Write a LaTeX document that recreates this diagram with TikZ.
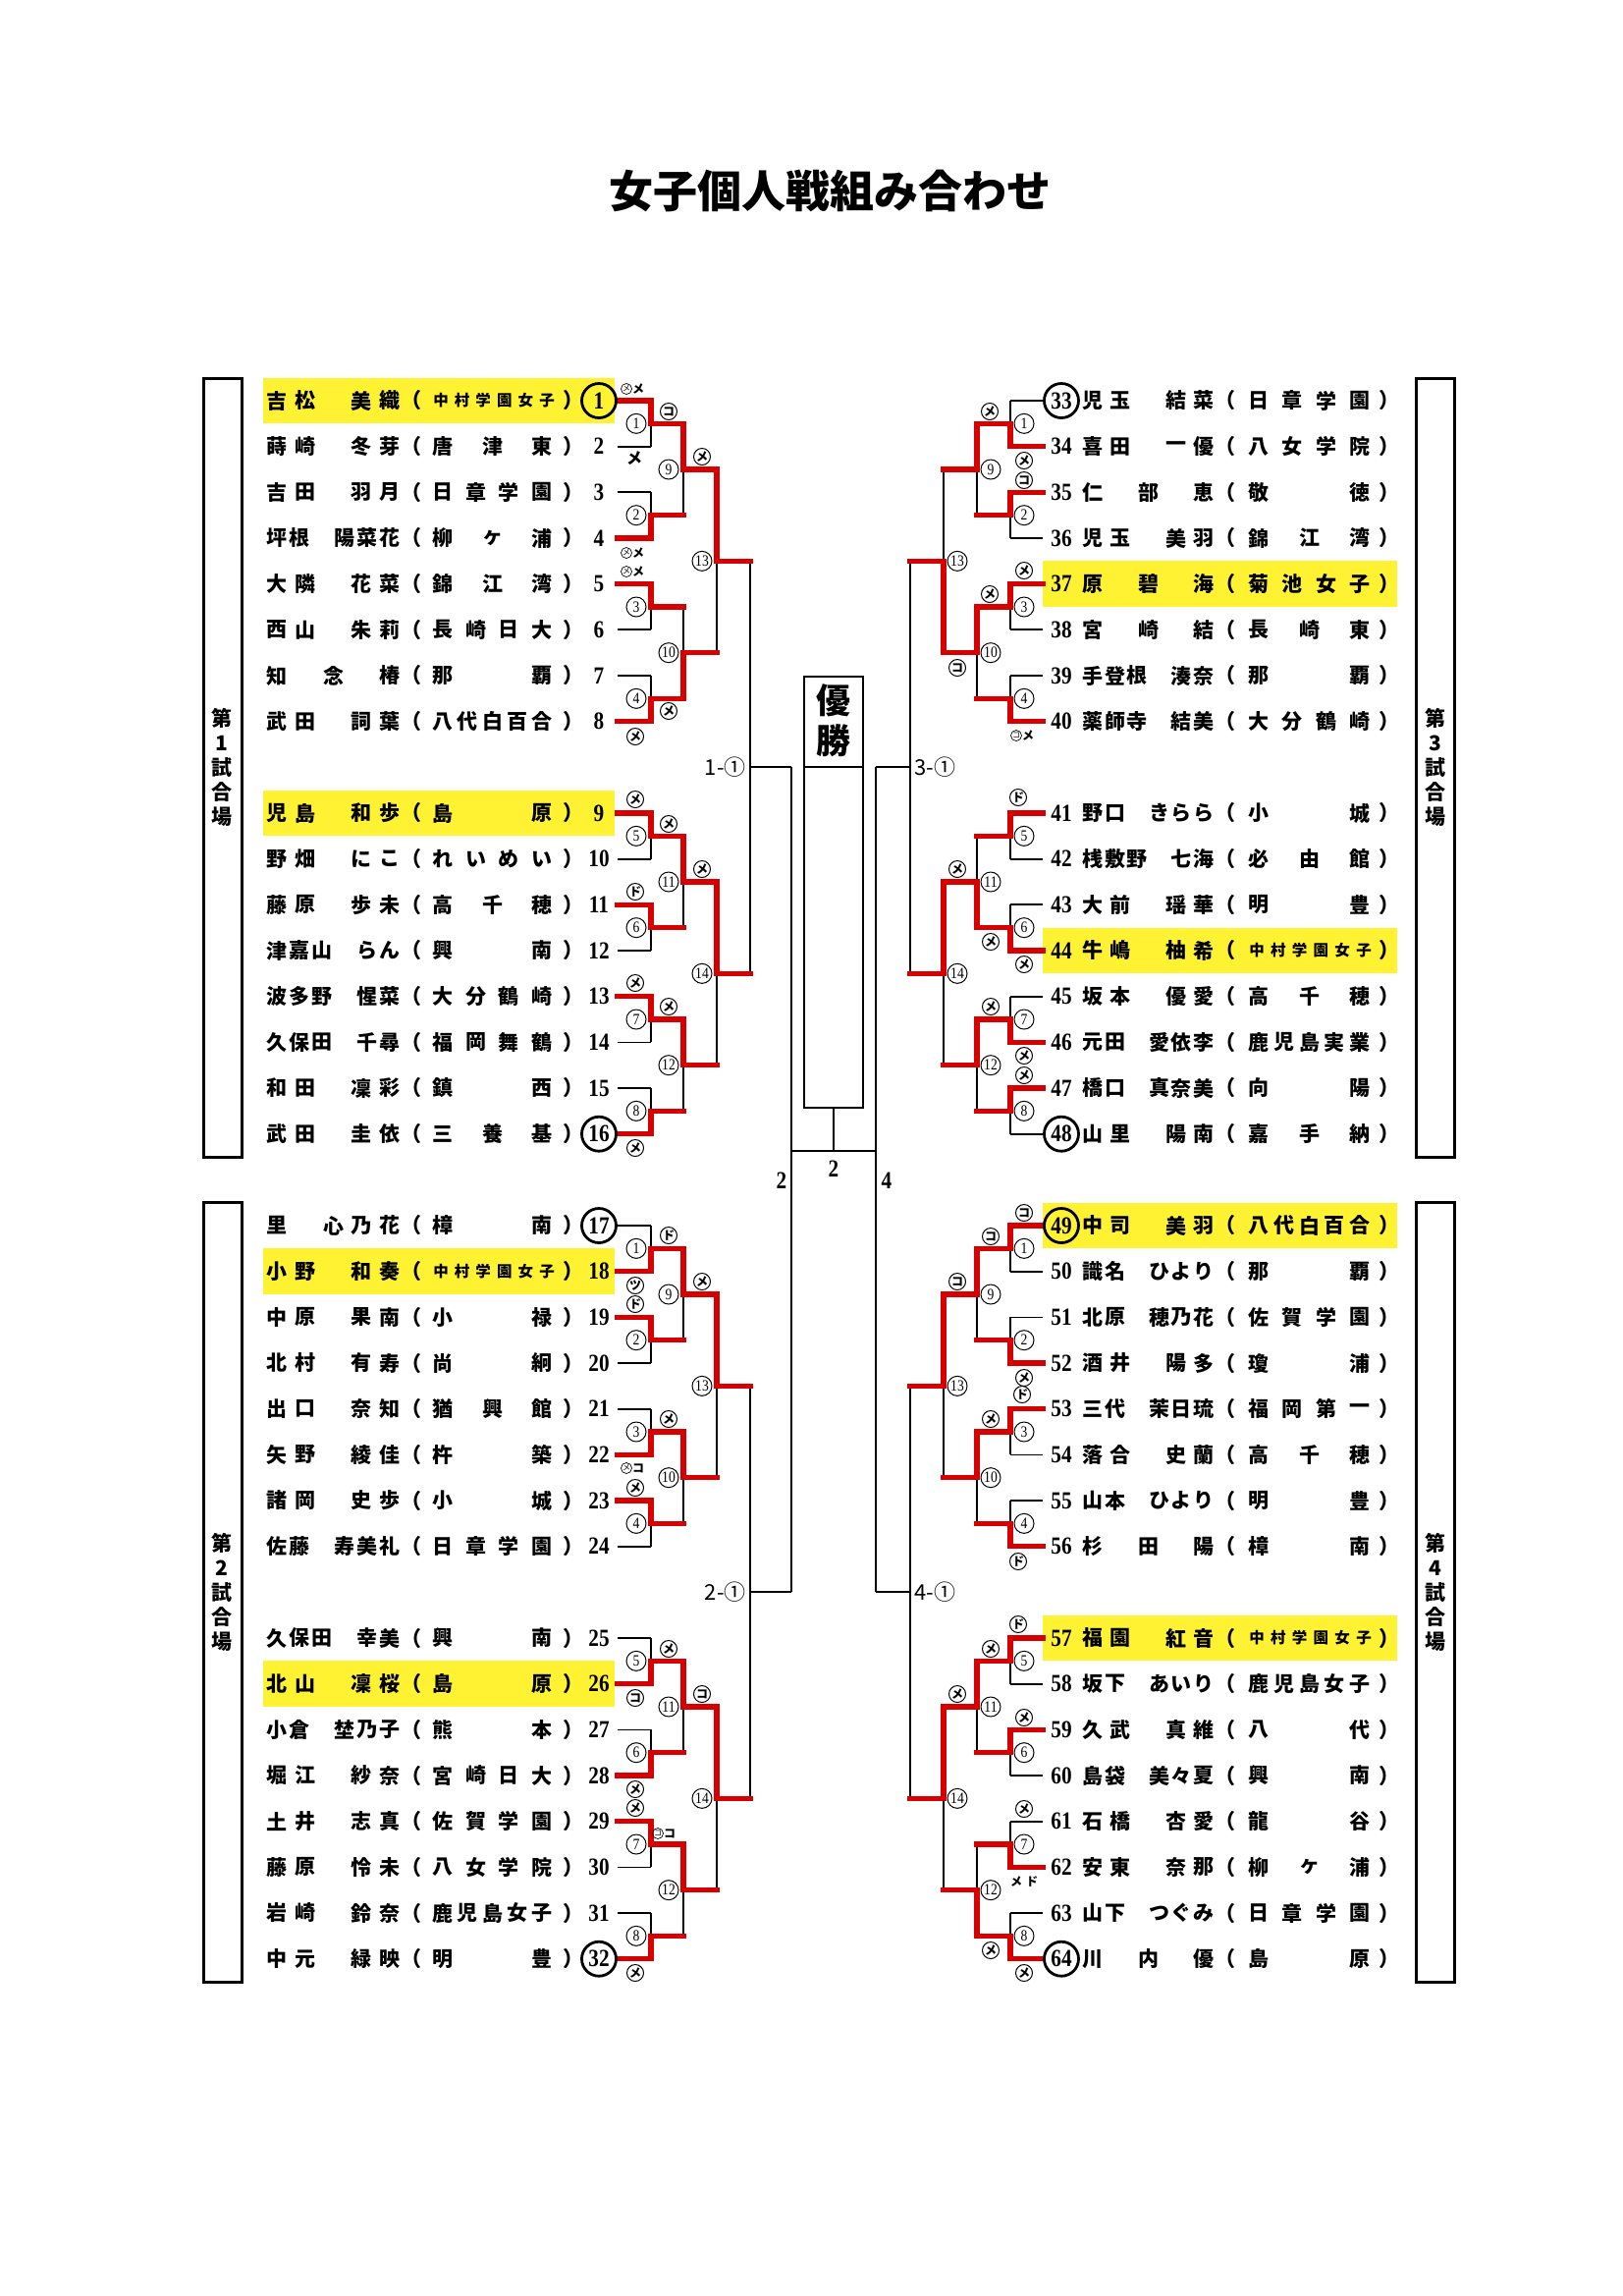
\documentclass[tikz,border=0pt]{standalone}
\usepackage{fontspec}
\newfontfamily\jp{Noto Sans CJK JP}
\newfontfamily\nf{Liberation Serif}[FakeStretch=0.85]
\pgfdeclarelayer{bg}
\pgfsetlayers{bg,main}
\definecolor{rdc}{RGB}{215,0,0}
\definecolor{hlc}{RGB}{255,242,50}
\tikzset{
 bl/.style={line width=1.7pt,black},
 rd/.style={line width=5.5pt,rdc,line cap=rect},
 nm/.style={font=\jp\bfseries\fontsize{21}{21}\selectfont,inner sep=0pt},
 sm/.style={font=\jp\bfseries\fontsize{15.5}{15.5}\selectfont,inner sep=0pt},
 num/.style={font=\nf\bfseries\fontsize{25}{25}\selectfont,inner sep=0pt},
 mlab/.style={circle,draw,line width=1pt,minimum size=20pt,inner sep=0pt,font=\nf\fontsize{16}{16}\selectfont},
 kc/.style={circle,draw,line width=1pt,minimum size=17pt,inner sep=0pt,font=\jp\bfseries\fontsize{12}{12}\selectfont},
 kcs/.style={circle,draw,line width=0.7pt,minimum size=11pt,inner sep=0pt,font=\jp\fontsize{8}{8}\selectfont},
 kp/.style={inner sep=0pt,font=\jp\bfseries\fontsize{12}{12}\selectfont},
 kpl/.style={inner sep=0pt,font=\jp\bfseries\fontsize{16}{16}\selectfont},
 seed/.style={line width=2.8pt},
 frm/.style={line width=3pt},
 flab/.style={font=\jp\bfseries\fontsize{21}{25}\selectfont,align=center,inner sep=0pt},
 clab/.style={font=\jp\fontsize{22}{22}\selectfont,inner sep=0pt},
}
% distribute characters evenly between two centre positions
\newcommand\distr[5]{%
  \foreach \c [count=\n] in {#5} {\xdef\distn{\n}}%
  \foreach \c [count=\i] in {#5} {%
    \pgfmathsetmacro\xx{#2+(\i-1)*(#3-#2)/max(\distn-1,1)}%
    \node[#1] at (\xx,#4) {\c};
  }%
}
\newcommand\pL[4]{%
  \node[num] at (610,#1) {#2};
  \distr{nm}{282}{397}{#1}{#3}%
  \node[nm] at (419,#1) {（};
  \node[nm] at (584,#1) {）};
  \distr{nm}{451}{552}{#1}{#4}%
}
\newcommand\pLs[3]{%
  \node[num] at (610,#1) {#2};
  \distr{nm}{282}{397}{#1}{#3}%
  \node[nm] at (419,#1) {（};
  \node[nm] at (584,#1) {）};
  \distr{sm}{449}{557}{#1}{中,村,学,園,女,子}%
}
\newcommand\pR[4]{%
  \node[num] at (1081,#1) {#2};
  \distr{nm}{1113}{1226}{#1}{#3}%
  \node[nm] at (1248,#1) {（};
  \node[nm] at (1415,#1) {）};
  \distr{nm}{1282}{1385}{#1}{#4}%
}
\newcommand\pRs[3]{%
  \node[num] at (1081,#1) {#2};
  \distr{nm}{1113}{1226}{#1}{#3}%
  \node[nm] at (1248,#1) {（};
  \node[nm] at (1415,#1) {）};
  \distr{sm}{1280}{1389}{#1}{中,村,学,園,女,子}%
}
\newcommand\hlL[1]{\begin{pgfonlayer}{bg}\fill[hlc] (268,#1-23.4) rectangle (626,#1+23.4);\end{pgfonlayer}}
\newcommand\hlR[1]{\begin{pgfonlayer}{bg}\fill[hlc] (1062,#1-23.4) rectangle (1423,#1+23.4);\end{pgfonlayer}}
\newcommand\km[3]{\node[kc] at (#1,#2) {#3};}
\newcommand\kms[4]{\node[kcs] at (#1-6,#2) {#3}; \node[kp] at (#1+6,#2) {#4};}
% one match: X, Xout, A, B, winner(1 top/2 bottom), label x, label
\newcommand\match[7]{%
  \pgfmathsetmacro\mm{(#3+#4)/2}%
  \begin{pgfonlayer}{bg}\draw[bl] (#1,#3) -- (#1,#4);\end{pgfonlayer}%
  \ifnum#5=1 \draw[rd] (#1,#3) -- (#1,\mm) -- (#2,\mm);\fi
  \ifnum#5=2 \draw[rd] (#1,#4) -- (#1,\mm) -- (#2,\mm);\fi
  \node[mlab] at (#6,\mm) {#7};
}
\newcommand\setleft{\def\bxP{629}\def\bxA{663}\def\bxB{696}\def\bxC{730}\def\bxD{764}\def\bxLa{648}\def\bxLb{681}\def\bxLc{715}}
\newcommand\setright{\def\bxP{1062}\def\bxA{1029}\def\bxB{995}\def\bxC{961}\def\bxD{927}\def\bxLa{1043}\def\bxLb{1009}\def\bxLc{975}}
\newcommand\bblock[4]{%
\begin{scope}[shift={(0,#1)},y=-46.6667pt]
 \foreach \a/\b/\w [count=\i] in {#2}{%
   \ifnum\w=1
     \draw[rd] (\bxP,\a) -- (\bxA,\a);
     \begin{pgfonlayer}{bg}\draw[bl] (\bxP,\b) -- (\bxA,\b);\end{pgfonlayer}
   \else
     \draw[rd] (\bxP,\b) -- (\bxA,\b);
     \begin{pgfonlayer}{bg}\draw[bl] (\bxP,\a) -- (\bxA,\a);\end{pgfonlayer}
   \fi
   \match{\bxA}{\bxB}{\a}{\b}{\w}{\bxLa}{\i}
 }
 \foreach \a/\b/\w [count=\i] in {#3}{%
   \pgfmathtruncatemacro\lt{\i+8}%
   \match{\bxB}{\bxC}{\a}{\b}{\w}{\bxLb}{\lt}
 }
 \foreach \a/\b/\w [count=\i] in {#4}{%
   \pgfmathtruncatemacro\lt{\i+12}%
   \match{\bxC}{\bxD}{\a}{\b}{\w}{\bxLc}{\lt}
 }
 \begin{pgfonlayer}{bg}\draw[bl] (\bxD,3.5) -- (\bxD,12.5);\end{pgfonlayer}
\end{scope}}

\begin{document}
\begin{tikzpicture}[x=1pt,y=-1pt]
\useasboundingbox (0,0) rectangle (1653,2338);
\begin{pgfonlayer}{bg}\fill[white] (0,0) rectangle (1653,2338);\end{pgfonlayer}

\node[font=\jp\bfseries\fontsize{45}{45}\selectfont,inner sep=0pt] (title) at (845,194) {女子個人戦組み合わせ};

% highlights
\hlL{408}\hlL{828}\hlL{1294.7}\hlL{1714.7}
\hlR{594.7}\hlR{968}\hlR{1248}\hlR{1668}

% frames
\draw[frm] (207,385) rectangle (246,1178);
\draw[frm] (207,1224) rectangle (246,2018);
\draw[frm] (1442,385) rectangle (1481,1178);
\draw[frm] (1442,1224) rectangle (1481,2018);
\node[flab] (f1) at (226,781) {第\\1\\試\\合\\場};
\node[flab] (f2) at (226,1621) {第\\2\\試\\合\\場};
\node[flab] (f3) at (1462,781) {第\\3\\試\\合\\場};
\node[flab] (f4) at (1462,1621) {第\\4\\試\\合\\場};

% brackets
\setleft
\bblock{408}{0/1/1,2/3/2,4/5/1,6/7/2,9/10/1,11/12/1,13/14/1,15/16/2}{0.5/2.5/1,4.5/6.5/2,9.5/11.5/1,13.5/15.5/1}{1.5/5.5/1,10.5/14.5/1}
\bblock{1248}{0/1/2,2/3/1,4/5/2,6/7/1,9/10/2,11/12/2,13/14/1,15/16/2}{0.5/2.5/1,4.5/6.5/1,9.5/11.5/1,13.5/15.5/1}{1.5/5.5/1,10.5/14.5/1}
\setright
\bblock{408}{0/1/2,2/3/1,4/5/1,6/7/2,9/10/1,11/12/2,13/14/2,15/16/1}{0.5/2.5/1,4.5/6.5/1,9.5/11.5/2,13.5/15.5/1}{1.5/5.5/2,10.5/14.5/1}
\bblock{1248}{0/1/1,2/3/2,4/5/1,6/7/2,9/10/1,11/12/1,13/14/2,15/16/2}{0.5/2.5/1,4.5/6.5/1,9.5/11.5/1,13.5/15.5/2}{1.5/5.5/1,10.5/14.5/1}

% centre
\begin{pgfonlayer}{bg}
\draw[bl] (764,781.3) -- (806,781.3);
\draw[bl] (764,1621.3) -- (806,1621.3);
\draw[bl] (806,781.3) -- (806,1621.3);
\draw[bl] (927,781.3) -- (892,781.3);
\draw[bl] (927,1621.3) -- (892,1621.3);
\draw[bl] (892,781.3) -- (892,1621.3);
\draw[bl] (806,1172) -- (892,1172);
\end{pgfonlayer}
\node[draw,line width=1.7pt,minimum width=60pt,minimum height=439pt,inner sep=0pt] (win) at (849,908.5) {};
\draw[bl] (819,781.3) -- (879,781.3);
\draw[bl] (win.south) -- (849,1172);
\node[font=\jp\bfseries\fontsize{35}{41}\selectfont,align=center,inner sep=0pt] (yusho) at (849,734) {優\\勝};
\node[clab,anchor=east] (l1) at (760,781.3) {1-①};
\node[clab,anchor=east] (l2) at (760,1621.3) {2-①};
\node[clab,anchor=west] (l3) at (931,781.3) {3-①};
\node[clab,anchor=west] (l4) at (931,1621.3) {4-①};
\node[num] (c2) at (849,1190) {2};
\node[num] (s2) at (796,1202) {2};
\node[num] (s4) at (903,1202) {4};

% seed circles
\foreach \yy in {408,1154.7,1248,1994.7} {\draw[seed] (610,\yy) circle (17.5pt); \draw[seed] (1081,\yy) circle (17.5pt);}

% players left top
\pLs{408.0}{1}{吉,松,　,美,織}
\pL{454.7}{2}{蒔,崎,　,冬,芽}{唐,津,東}
\pL{501.3}{3}{吉,田,　,羽,月}{日,章,学,園}
\pL{548.0}{4}{坪,根,　,陽,菜,花}{柳,ヶ,浦}
\pL{594.7}{5}{大,隣,　,花,菜}{錦,江,湾}
\pL{641.3}{6}{西,山,　,朱,莉}{長,崎,日,大}
\pL{688.0}{7}{知,　,念,　,椿}{那,覇}
\pL{734.7}{8}{武,田,　,詞,葉}{八,代,白,百,合}
\pL{828.0}{9}{児,島,　,和,歩}{島,原}
\pL{874.7}{10}{野,畑,　,に,こ}{れ,い,め,い}
\pL{921.3}{11}{藤,原,　,歩,未}{高,千,穂}
\pL{968.0}{12}{津,嘉,山,　,ら,ん}{興,南}
\pL{1014.7}{13}{波,多,野,　,惺,菜}{大,分,鶴,崎}
\pL{1061.3}{14}{久,保,田,　,千,尋}{福,岡,舞,鶴}
\pL{1108.0}{15}{和,田,　,凜,彩}{鎮,西}
\pL{1154.7}{16}{武,田,　,圭,依}{三,養,基}
% left bottom
\pL{1248.0}{17}{里,　,心,乃,花}{樟,南}
\pLs{1294.7}{18}{小,野,　,和,奏}
\pL{1341.3}{19}{中,原,　,果,南}{小,禄}
\pL{1388.0}{20}{北,村,　,有,寿}{尚,絅}
\pL{1434.7}{21}{出,口,　,奈,知}{猶,興,館}
\pL{1481.3}{22}{矢,野,　,綾,佳}{杵,築}
\pL{1528.0}{23}{諸,岡,　,史,歩}{小,城}
\pL{1574.7}{24}{佐,藤,　,寿,美,礼}{日,章,学,園}
\pL{1668.0}{25}{久,保,田,　,幸,美}{興,南}
\pL{1714.7}{26}{北,山,　,凜,桜}{島,原}
\pL{1761.3}{27}{小,倉,　,埜,乃,子}{熊,本}
\pL{1808.0}{28}{堀,江,　,紗,奈}{宮,崎,日,大}
\pL{1854.7}{29}{土,井,　,志,真}{佐,賀,学,園}
\pL{1901.3}{30}{藤,原,　,怜,未}{八,女,学,院}
\pL{1948.0}{31}{岩,崎,　,鈴,奈}{鹿,児,島,女,子}
\pL{1994.7}{32}{中,元,　,緑,映}{明,豊}
% right top
\pR{408.0}{33}{児,玉,　,結,菜}{日,章,学,園}
\pR{454.7}{34}{喜,田,　,一,優}{八,女,学,院}
\pR{501.3}{35}{仁,　,部,　,恵}{敬,徳}
\pR{548.0}{36}{児,玉,　,美,羽}{錦,江,湾}
\pR{594.7}{37}{原,　,碧,　,海}{菊,池,女,子}
\pR{641.3}{38}{宮,　,崎,　,結}{長,崎,東}
\pR{688.0}{39}{手,登,根,　,湊,奈}{那,覇}
\pR{734.7}{40}{薬,師,寺,　,結,美}{大,分,鶴,崎}
\pR{828.0}{41}{野,口,　,き,ら,ら}{小,城}
\pR{874.7}{42}{桟,敷,野,　,七,海}{必,由,館}
\pR{921.3}{43}{大,前,　,瑶,華}{明,豊}
\pRs{968.0}{44}{牛,嶋,　,柚,希}
\pR{1014.7}{45}{坂,本,　,優,愛}{高,千,穂}
\pR{1061.3}{46}{元,田,　,愛,依,李}{鹿,児,島,実,業}
\pR{1108.0}{47}{橋,口,　,真,奈,美}{向,陽}
\pR{1154.7}{48}{山,里,　,陽,南}{嘉,手,納}
% right bottom
\pR{1248.0}{49}{中,司,　,美,羽}{八,代,白,百,合}
\pR{1294.7}{50}{識,名,　,ひ,よ,り}{那,覇}
\pR{1341.3}{51}{北,原,　,穂,乃,花}{佐,賀,学,園}
\pR{1388.0}{52}{酒,井,　,陽,多}{瓊,浦}
\pR{1434.7}{53}{三,代,　,茉,日,琉}{福,岡,第,一}
\pR{1481.3}{54}{落,合,　,史,蘭}{高,千,穂}
\pR{1528.0}{55}{山,本,　,ひ,よ,り}{明,豊}
\pR{1574.7}{56}{杉,　,田,　,陽}{樟,南}
\pRs{1668.0}{57}{福,園,　,紅,音}
\pR{1714.7}{58}{坂,下,　,あ,い,り}{鹿,児,島,女,子}
\pR{1761.3}{59}{久,武,　,真,維}{八,代}
\pR{1808.0}{60}{島,袋,　,美,々,夏}{興,南}
\pR{1854.7}{61}{石,橋,　,杏,愛}{龍,谷}
\pR{1901.3}{62}{安,東,　,奈,那}{柳,ヶ,浦}
\pR{1948.0}{63}{山,下,　,つ,ぐ,み}{日,章,学,園}
\pR{1994.7}{64}{川,　,内,　,優}{島,原}

% technique marks, block 1
\kms{644}{396}{メ}{メ}
\km{681}{419}{コ}
\node[kpl] at (646,467) {メ};
\km{715}{465}{メ}
\kms{644}{563}{メ}{メ}
\kms{644}{582}{メ}{メ}
\km{681}{724}{メ}
\km{647}{750}{メ}
\km{647}{814}{メ}
\km{681}{839}{メ}
\km{715}{885}{メ}
\km{647}{908}{ド}
\km{647}{1001}{メ}
\km{681}{1025}{メ}
\km{647}{1169}{メ}
% block 2
\km{681}{1258}{ド}
\km{715}{1305}{メ}
\km{647}{1309}{ツ}
\km{647}{1328}{ド}
\km{681}{1445}{メ}
\kms{644}{1495}{メ}{コ}
\km{647}{1515}{メ}
\km{681}{1679}{メ}
\km{647}{1729}{コ}
\km{715}{1725}{コ}
\km{647}{1822}{メ}
\km{647}{1841}{メ}
\kms{676}{1867}{コ}{コ}
\km{647}{2009}{メ}
% block 3
\km{1008}{419}{メ}
\km{1043}{469}{メ}
\km{1043}{489}{コ}
\km{1043}{581}{メ}
\km{1008}{605}{メ}
\km{975}{680}{コ}
\kms{1041}{749}{コ}{メ}
\km{1037}{812}{ド}
\km{975}{885}{メ}
\km{1009}{959}{メ}
\km{1043}{982}{メ}
\km{1009}{1025}{メ}
\km{1043}{1075}{メ}
\km{1043}{1095}{メ}
% block 4
\km{1043}{1235}{コ}
\km{1009}{1259}{コ}
\km{975}{1305}{コ}
\km{1043}{1403}{メ}
\km{1041}{1420}{ド}
\km{1009}{1445}{メ}
\km{1037}{1590}{ド}
\km{1037}{1654}{ド}
\km{1009}{1679}{メ}
\km{975}{1725}{メ}
\km{1043}{1749}{メ}
\km{1043}{1842}{メ}
\node[kp] at (1043,1916) {メ\,\,ド};
\km{1009}{1986}{メ}
\km{1043}{2009}{メ}
\end{tikzpicture}
\end{document}
